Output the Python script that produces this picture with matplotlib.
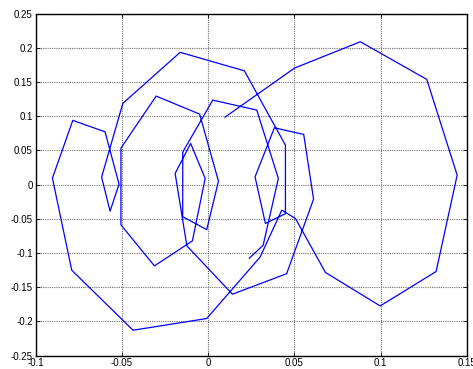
import matplotlib
matplotlib.use("Agg")
import matplotlib.pyplot as plt

x = [0.0239, 0.0319, 0.0407, 0.0282, 0.0027, -0.0147, -0.0147, -0.0008, 0.0060,
     -0.0049, -0.0301, -0.0505, -0.0505, -0.0311, -0.0091, -0.0017, -0.0101, -0.0191,
     -0.0123, 0.0141, 0.0455, 0.0611, 0.0554, 0.0384, 0.0272, 0.0332, 0.0448, 0.0448,
     0.0210, -0.0162, -0.0494, -0.0617, -0.0568, -0.0516, -0.0597, -0.0784, -0.0902,
     -0.0790, -0.0435, -0.0008, 0.0301, 0.0427, 0.0506, 0.0680, 0.0997, 0.1321,
     0.1443, 0.1267, 0.0882, 0.0501, 0.0098]
y = [-0.1076, -0.0886, 0.0091, 0.1091, 0.1237, 0.0476, -0.0469, -0.0659, 0.0051,
     0.1032, 0.1296, 0.0534, -0.0589, -0.1189, -0.0823, 0.0091, 0.0603, 0.0164,
     -0.0896, -0.1603, -0.1303, -0.0212, 0.0735, 0.0832, 0.0114, -0.0568, -0.0425,
     0.0578, 0.1666, 0.1936, 0.1189, 0.0110, -0.0388, 0.0007, 0.0773, 0.0940, 0.0095,
     -0.1252, -0.2130, -0.1959, -0.1061, -0.0373, -0.0495, -0.1285, -0.1775, -0.1271,
     0.0139, 0.1540, 0.2091, 0.1706, 0.0988]

xticks = [-0.1, -0.05, 0, 0.05, 0.1, 0.15]
xticklabels = ["-0.1", "-0.05", "0", "0.05", "0.1", "0.15"]
yticks = [-0.25, -0.2, -0.15, -0.1, -0.05, 0, 0.05, 0.1, 0.15, 0.2, 0.25]
yticklabels = ["-0.25", "-0.2", "-0.15", "-0.1", "-0.05", "0", "0.05", "0.1", "0.15", "0.2", "0.25"]

plt.rcParams['font.family'] = ['Liberation Sans', 'DejaVu Sans']

fig = plt.figure(figsize=(4.73, 3.69), dpi=100)
ax = fig.add_axes([35.5/473, 13.5/369, (467-35.5)/473, (355.7-14)/369])
ax.plot(x, y, color='#0000ff', lw=0.9, zorder=3)
ax.set_xlim(-0.1, 0.15)
ax.set_ylim(-0.25, 0.25)
ax.set_xticks(xticks)
ax.set_xticklabels(xticklabels)
ax.set_yticks(yticks)
ax.set_yticklabels(yticklabels)
ax.tick_params(direction='in', top=True, right=True, labelsize=7, length=3, width=0.6, pad=2)
ax.grid(True, linestyle=(0, (1, 1)), color='#707070', linewidth=0.8)
for s in ax.spines.values():
    s.set_linewidth(1.0)
fig.savefig("out.png", dpi=100)
